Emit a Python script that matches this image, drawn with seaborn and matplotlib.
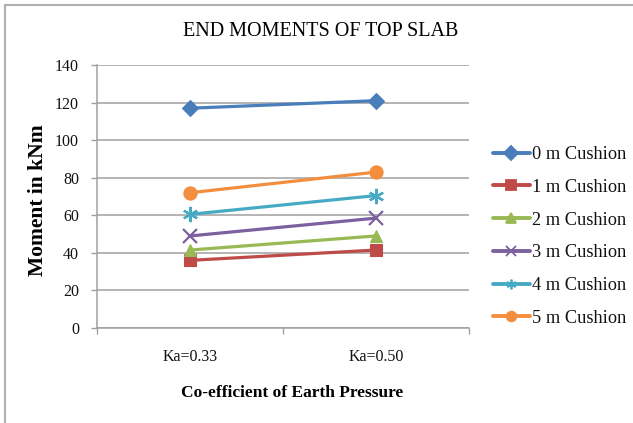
import matplotlib
matplotlib.use("Agg")
import matplotlib.pyplot as plt
from matplotlib.lines import Line2D
import seaborn as sns
import pandas as pd

# Data
ka_labels = ["Ka=0.33", "Ka=0.50"]
series_names = ["0 m Cushion", "1 m Cushion", "2 m Cushion",
                "3 m Cushion", "4 m Cushion", "5 m Cushion"]
cushion_0 = [117, 121]
cushion_1 = [36, 41.5]
cushion_2 = [41.5, 49]
cushion_3 = [49, 58.5]
cushion_4 = [60.5, 70.5]
cushion_5 = [72, 83]
y_ticks = [0, 20, 40, 60, 80, 100, 120, 140]

values = [cushion_0, cushion_1, cushion_2, cushion_3, cushion_4, cushion_5]
rows = []
for name, vals in zip(series_names, values):
    for ka, v in zip(ka_labels, vals):
        rows.append({"Ka": ka, "Moment": v, "Cushion": name})
df = pd.DataFrame(rows)

colors = ["#4A7EBB", "#BE4B48", "#98B954", "#7D60A0", "#46AAC5", "#F38E3F"]
markers = ["D", "s", "^", "x", (6, 2, 0), "o"]
msizes = [8, 8, 9, 10, 11, 9.5]

sns.set_theme(style="white")
plt.rcParams["font.family"] = ["Liberation Serif", "DejaVu Serif"]

fig = plt.figure(figsize=(6.33, 4.23), dpi=100)
ax = fig.add_axes([97 / 633, 1 - 328 / 423, (469 - 97) / 633, (328 - 65) / 423])

# seaborn needs one marker family; line-art markers are applied afterwards
sns.lineplot(data=df, x="Ka", y="Moment", hue="Cushion", style="Cushion",
             palette=colors, markers=["D", "s", "^", "o", "o", "o"],
             dashes=False, linewidth=2.3, legend=False, sort=False, ax=ax)

for line, c, m, ms in zip(ax.lines, colors, markers, msizes):
    line.set_marker(m)
    line.set_markersize(ms)
    line.set_markerfacecolor(c)
    line.set_markeredgecolor(c)
    line.set_markeredgewidth(1.6 if m in ("x", (6, 2, 0)) else 0.8)
    line.set_solid_capstyle("round")

ax.set_xlim(-0.5, 1.5)
ax.set_ylim(0, 140)
ax.set_yticks(y_ticks)
ax.set_yticklabels([str(t) for t in y_ticks])
ax.set_xticks([0, 1])
ax.set_xticklabels(ka_labels)
ax.set_xticks([-0.5, 0.5, 1.5], minor=True)
ax.set_xlabel("")
ax.set_ylabel("")

grid_c = "#A0A0A0"
ax.yaxis.grid(True, color=grid_c, linewidth=1.1)
ax.xaxis.grid(False)
ax.set_axisbelow(True)
for side in ("top", "right"):
    ax.spines[side].set_visible(False)
for side in ("left", "bottom"):
    ax.spines[side].set_color(grid_c)
    ax.spines[side].set_linewidth(1.1)

ax.tick_params(axis="y", which="major", direction="out", length=4, width=1,
               color=grid_c, left=True, pad=9, labelsize=11.5, labelcolor="#111111")
ax.tick_params(axis="x", which="major", length=0, pad=15, labelsize=11.5,
               labelcolor="#111111")
ax.tick_params(axis="x", which="minor", direction="out", length=4, width=1,
               color=grid_c, bottom=True)

# Titles
fig.text(321 / 633, 1 - 32 / 423, "END MOMENTS OF TOP SLAB", ha="center",
         va="center", fontsize=14.5, color="#000000")
fig.text(292 / 633, 1 - 393 / 423, "Co-efficient of Earth Pressure",
         ha="center", va="center", fontsize=12.5, fontweight="bold",
         color="#000000")
fig.text(38 / 633, 1 - 200 / 423, "Moment in kNm", ha="center", va="center",
         rotation=90, fontsize=15.5, fontweight="bold", color="#000000")

# Legend
handles = []
for c, m in zip(colors, markers):
    handles.append(Line2D([0], [0], color=c, linewidth=2.8, marker=m,
                          markersize=7, markerfacecolor=c, markeredgecolor=c,
                          markeredgewidth=1.3))
leg = fig.legend(handles, series_names, loc="upper left",
                 bbox_to_anchor=(493 / 633, 1 - 146 / 423), frameon=False,
                 fontsize=13.2, handlelength=2.0, handletextpad=0.1,
                 labelspacing=0.86, borderpad=0, borderaxespad=0)
for t in leg.get_texts():
    t.set_color("#111111")

# Chart-area frame
fig.add_artist(Line2D([5 / 633, 5 / 633], [0, 1 - 5 / 423],
                      transform=fig.transFigure, color="#B0B0B0", linewidth=1.5))
fig.add_artist(Line2D([5 / 633, 1], [1 - 5 / 423, 1 - 5 / 423],
                      transform=fig.transFigure, color="#B0B0B0", linewidth=1.5))

fig.savefig("out.png", dpi=100)
